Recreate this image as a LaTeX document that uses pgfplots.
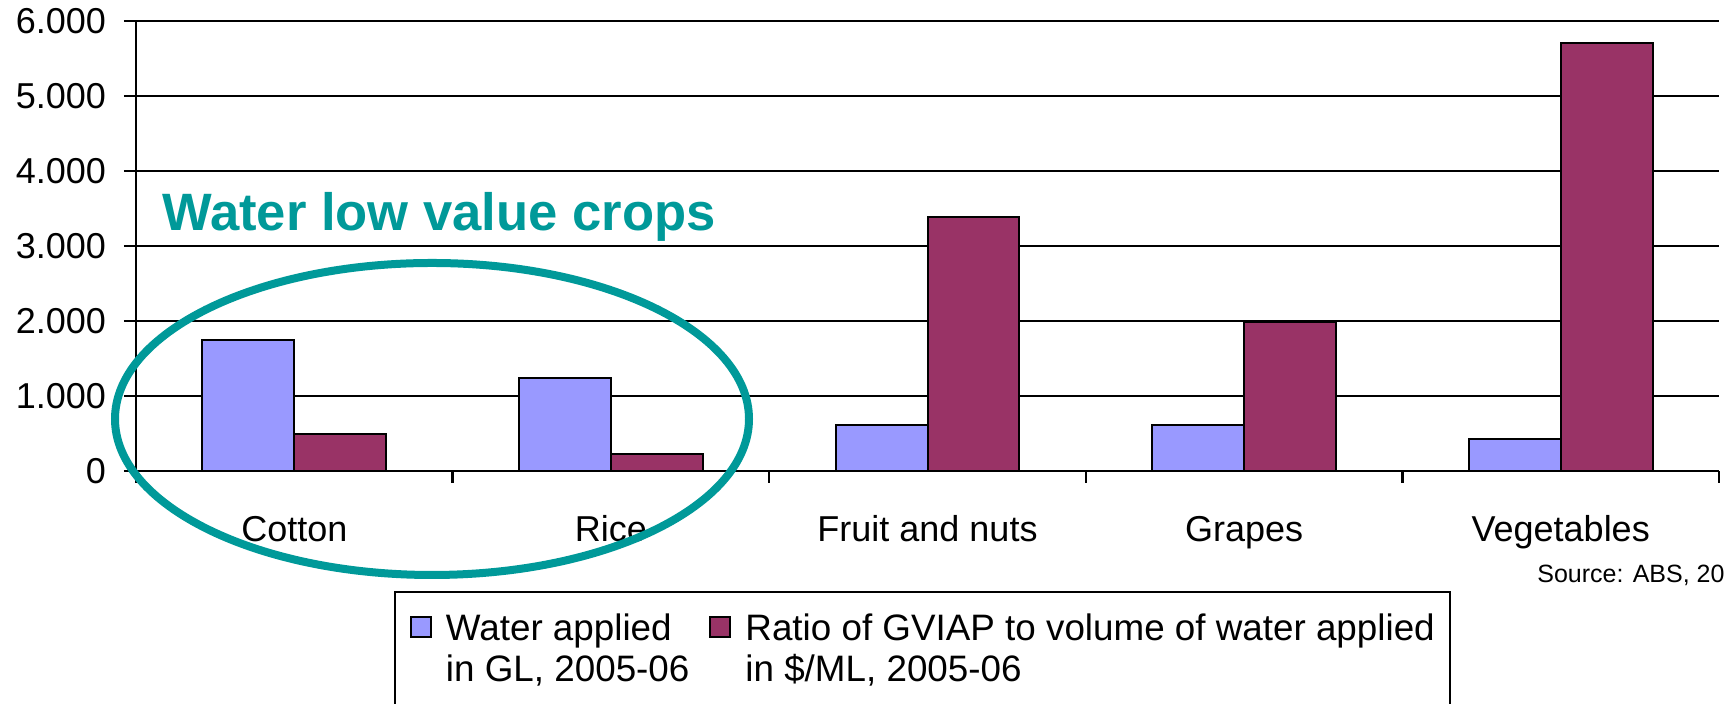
\documentclass[border=0pt]{standalone}
\usepackage{pgfplots}
\pgfplotsset{compat=1.18}
\usepackage{fontspec}
\setmainfont{Liberation Sans}
\definecolor{wblue}{HTML}{9999FF}
\definecolor{wred}{HTML}{993366}
\definecolor{wteal}{HTML}{009999}
\begin{document}
\begin{tikzpicture}
\useasboundingbox (0,0) rectangle (862.5pt,352pt);
\clip (0,0) rectangle (862.5pt,352pt);
\begin{axis}[
  at={(68pt,116.5pt)}, anchor=south west,
  scale only axis, width=791.5pt, height=225pt,
  xmin=-0.5, xmax=4.5, ymin=0, ymax=6000,
  axis lines*=left, axis line style={-, line width=1.2pt},
  tick align=outside,
  xtick={0,1,2,3,4},
  xticklabels={Cotton,Rice,Fruit and nuts,Grapes,Vegetables},
  minor xtick={-0.5,0.5,1.5,2.5,3.5,4.5},
  major x tick style={draw=none},
  minor x tick style={line width=1.2pt, black},
  minor tick length=6pt,
  major tick length=6pt,
  ytick={0,1000,2000,3000,4000,5000,6000},
  y tick style={line width=1.2pt, black},
  ymajorgrids, grid style={line width=1.2pt, black},
  scaled y ticks=false,
  /pgf/number format/assume math mode=true,
  /pgf/number format/1000 sep={.},
  ticklabel style={font=\fontsize{18}{20}\selectfont},
  xticklabel style={anchor=base, yshift=-29.4pt},
  yticklabel style={xshift=-5.5pt},
  ybar, bar width=0.29,
  legend style={at={(0.16298,-0.26667)}, anchor=north west,
    draw=black, line width=1pt, inner xsep=7.5pt, inner ysep=10pt,
    font=\fontsize{18.4}{20.5}\selectfont,
    column sep=7pt,
    /tikz/every even column/.append style={column sep=10pt},
    nodes={inner sep=0pt, anchor=base west, text depth=30pt}},
  legend columns=2,
  legend image code/.code={\draw[#1, line width=1pt] (0pt,2pt) rectangle (10pt,12pt);},
]
\addplot[fill=wblue, draw=black, line width=1pt, bar shift=-0.145]
  coordinates {(0,1750) (1,1240) (2,610) (3,610) (4,420)};
\addlegendentry{\begin{tabular}[t]{@{}l@{}}Water applied\\in GL, 2005-06\end{tabular}}
\addplot[fill=wred, draw=black, line width=1pt, bar shift=0.145]
  coordinates {(0,495) (1,225) (2,3390) (3,1990) (4,5700)};
\addlegendentry{\begin{tabular}[t]{@{}l@{}}Ratio of GVIAP to volume of water applied\\in \$/ML, 2005-06\end{tabular}}
\end{axis}
\draw[wteal, line width=4pt] (216pt,142.5pt) ellipse [x radius=158.5pt, y radius=78pt];
\node[anchor=base west, inner sep=0pt, text=wteal, font=\fontsize{26.3}{30}\selectfont\bfseries] at (81pt,236.5pt) {Water low value crops};
\node[anchor=base west, inner sep=0pt, font=\fontsize{12.5}{14}\selectfont] at (768.5pt,60.5pt) {Source: ABS, 2008};
\end{tikzpicture}
\end{document}
